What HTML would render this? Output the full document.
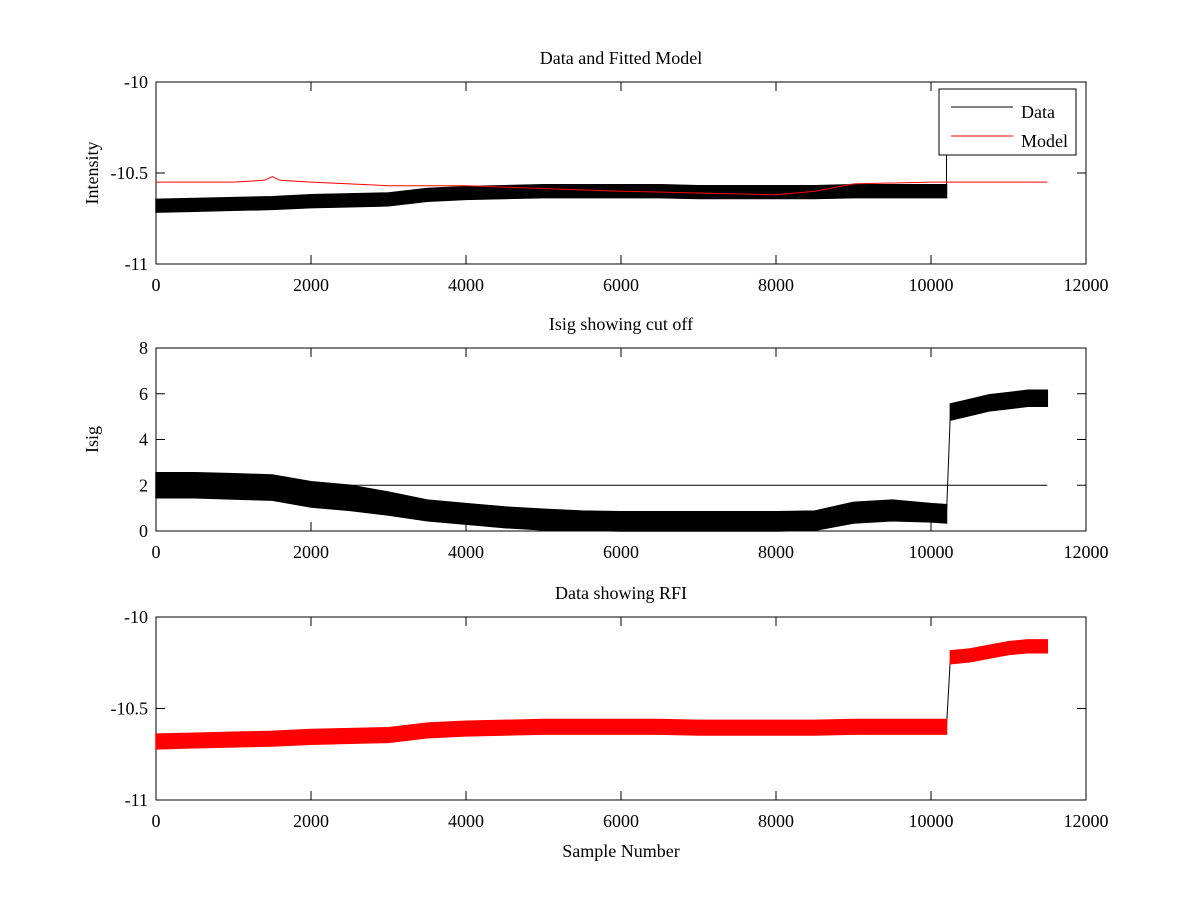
<!DOCTYPE html>
<html><head><meta charset="utf-8"><style>
html,body{margin:0;padding:0;background:#fff}
svg{display:block;font-family:"Liberation Serif",serif}
text{font-size:18px;fill:#000}
</style></head><body>
<svg id="fig" width="1200" height="900" viewBox="0 0 1200 900" xmlns="http://www.w3.org/2000/svg"></svg>
<script>
const xTicks=[0,2000,4000,6000,8000,10000,12000];
const preX=[0,500,1000,1500,2000,2500,3000,3500,4000,4500,5000,5500,6000,6500,7000,7500,8000,8500,9000,9500,10000,10200];
const dataCenter=[-10.68,-10.675,-10.67,-10.665,-10.655,-10.65,-10.645,-10.62,-10.61,-10.605,-10.6,-10.6,-10.6,-10.6,-10.605,-10.605,-10.605,-10.605,-10.6,-10.6,-10.6,-10.6];
const dataHalf=[0.035,0.035,0.035,0.035,0.035,0.035,0.035,0.035,0.035,0.035,0.035,0.035,0.035,0.035,0.035,0.035,0.035,0.035,0.035,0.035,0.035,0.035];
const modelX=[0,1000,1400,1500,1600,2000,2500,3000,4000,5000,6000,7000,8000,8500,9000,10000,11500];
const modelY=[-10.55,-10.55,-10.54,-10.52,-10.54,-10.55,-10.56,-10.57,-10.57,-10.585,-10.6,-10.61,-10.62,-10.6,-10.56,-10.55,-10.55];
const isigCenter=[2.0,2.0,1.95,1.9,1.6,1.45,1.2,0.9,0.75,0.6,0.5,0.45,0.42,0.42,0.42,0.42,0.42,0.45,0.8,0.9,0.8,0.75];
const isigHalf=[0.55,0.55,0.55,0.55,0.55,0.55,0.5,0.45,0.45,0.45,0.45,0.42,0.42,0.42,0.42,0.42,0.42,0.42,0.45,0.45,0.4,0.4];
const postX=[10250,10500,10750,11000,11250,11500];
const postIsig=[5.2,5.4,5.6,5.7,5.8,5.8];
const postIsigHalf=[0.35,0.35,0.35,0.35,0.35,0.35];
const postData=[-10.22,-10.21,-10.19,-10.17,-10.16,-10.16];
const cutoff=2;
const NS="http://www.w3.org/2000/svg";
const svg=document.getElementById('fig');
function el(t,a,p){const e=document.createElementNS(NS,t);for(const k in a)e.setAttribute(k,a[k]);(p||svg).appendChild(e);return e;}
const X0=156,X1=1086;
function sx(v){return X0+(v-0)/12000*(X1-X0);}
function mk(top,bot,ymin,ymax){return v=>bot-(v-ymin)/(ymax-ymin)*(bot-top);}
function axes(name,top,bot,ymin,ymax,yt,ylab,title,sy){
  const g=el('g',{});
  
  
  const fr=el('rect',{x:X0,y:top,width:X1-X0,height:bot-top,fill:'none',stroke:'#000','stroke-width':1},g);
  
  
  xTicks.forEach(t=>{const x=sx(t);
    el('line',{x1:x,x2:x,y1:bot,y2:bot-9,stroke:'#000'},g);
    el('line',{x1:x,x2:x,y1:top,y2:top+9,stroke:'#000'},g);
    const tx=el('text',{x:x,y:bot+27,'text-anchor':'middle'},g);tx.textContent=t;
    
    });
  yt.forEach(t=>{const y=sy(t);
    el('line',{x1:X0,x2:X0+9,y1:y,y2:y,stroke:'#000'},g);
    el('line',{x1:X1,x2:X1-9,y1:y,y2:y,stroke:'#000'},g);
    const tx=el('text',{x:X0-8,y:y+6,'text-anchor':'end'},g);tx.textContent=t;
    
    });
  const tt=el('text',{x:(X0+X1)/2,y:top-18,'text-anchor':'middle'},g);tt.textContent=title;
  
  
  if(ylab){const yl=el('text',{x:0,y:0,'text-anchor':'middle',transform:`translate(${X0-58},${(top+bot)/2}) rotate(-90)`},g);yl.textContent=ylab;
    
    }
  return g;
}
function band(g,xs,c,h,sy,color,name,lo){
  let up=[],dn=[];
  xs.forEach((x,i)=>{let a=c[i]+h[i],b=c[i]-h[i];if(lo!==undefined)b=Math.max(b,lo);
    up.push(sx(x).toFixed(1)+','+sy(a).toFixed(1));dn.unshift(sx(x).toFixed(1)+','+sy(b).toFixed(1));});
  const p=el('polygon',{points:up.concat(dn).join(' '),fill:color,stroke:color,'stroke-width':1.5},g);
  
  
}
function line(g,xs,ys,sy,color,name){
  const p=el('polyline',{points:xs.map((x,i)=>sx(x).toFixed(1)+','+sy(ys[i]).toFixed(1)).join(' '),fill:'none',stroke:color,'stroke-width':1},g);
  
  
}
// plot 1
const sy1=mk(82,264,-11,-10);
const g1=axes('data-model-plot',82,264,-11,-10,[-10,-10.5,-11],'Intensity','Data and Fitted Model',sy1);
band(g1,preX,dataCenter,dataHalf,sy1,'#000','data-series');
line(g1,[10200,10200],[dataCenter[dataCenter.length-1],-10.3],sy1,'#000','data-jump');
line(g1,modelX,modelY,sy1,'#f00','model-series');
const lg=el('g',{},g1);


el('rect',{x:939,y:89,width:137,height:66,fill:'#fff',stroke:'#000'},lg);
el('line',{x1:951,x2:1013,y1:107,y2:107,stroke:'#000'},lg);
el('line',{x1:951,x2:1013,y1:136,y2:136,stroke:'#f00'},lg);
let t=el('text',{x:1021,y:118},lg);t.textContent='Data';


t=el('text',{x:1021,y:147},lg);t.textContent='Model';


// plot 2
const sy2=mk(348,531,0,8);
const g2=axes('isig-plot',348,531,0,8,[0,2,4,6,8],'Isig','Isig showing cut off',sy2);
band(g2,preX,isigCenter,isigHalf,sy2,'#000','isig-series',0);
band(g2,postX,postIsig,postIsigHalf,sy2,'#000','isig-series-post');
line(g2,[10200,10250],[isigCenter[isigCenter.length-1],postIsig[0]],sy2,'#000','isig-jump');
line(g2,[0,11500],[cutoff,cutoff],sy2,'#000','cutoff-line');
// plot 3
const sy3=mk(617,800,-11,-10);
const g3=axes('rfi-plot',617,800,-11,-10,[-10,-10.5,-11],null,'Data showing RFI',sy3);
line(g3,[10200,10250],[dataCenter[dataCenter.length-1],postData[0]],sy3,'#000','rfi-jump');
band(g3,preX,dataCenter,dataHalf.map(v=>v+0.005),sy3,'#f00','rfi-markers');
band(g3,postX,postData,postX.map(()=>0.035),sy3,'#f00','rfi-markers-post');
const xl=el('text',{x:(X0+X1)/2,y:857,'text-anchor':'middle'});xl.textContent='Sample Number';


</script>
</body></html>
